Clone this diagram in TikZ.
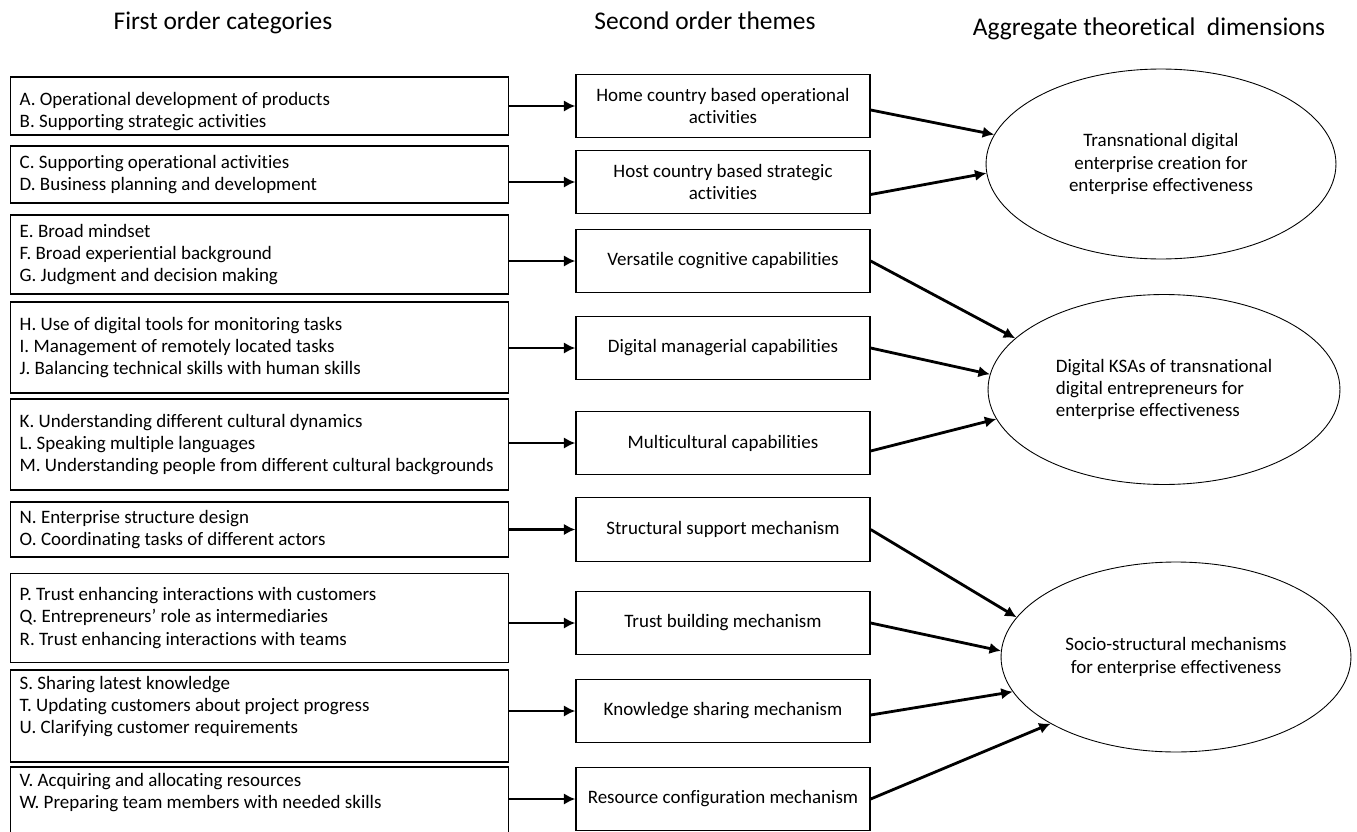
\documentclass[tikz,border=0pt]{standalone}
\usepackage{fontspec}
\setmainfont{Carlito}[Ligatures=NoCommon]
\usetikzlibrary{arrows.meta,positioning}
\usetikzlibrary{shapes.geometric}
\tikzset{
  every node/.style={execute at begin node={\spaceskip=0pt\xspaceskip=0pt}},
  catbox/.style={draw, line width=0.8pt, anchor=west, text width=9.6cm, inner xsep=0.18cm, align=flush left, font=\fontsize{10.8}{12.7}\selectfont},
  themebox/.style={draw, line width=0.8pt, minimum width=5.88cm, minimum height=1.27cm, text width=5.6cm, align=flush center, font=\fontsize{10.8}{12.7}\selectfont},
  dimnode/.style={ellipse, draw, line width=0.5pt, inner sep=0pt, minimum width=7cm, minimum height=3.8cm, font=\fontsize{10.8}{12.7}\selectfont},
  head/.style={font=\fontsize{14.5}{16}\selectfont},
  link/.style={-{Latex[length=6.5pt,width=6.5pt]}, line width=1.6pt}
}

\begin{document}
\begin{tikzpicture}[x=0.02cm, y=-0.02cm]
\useasboundingbox (0,0) rectangle (1357,832);
% column titles
\node[head] (h1) at (223,23) {First order categories};
\node[head] (h2) at (705,21) {Second order themes};
\node[head] (h3) at (1149,29) {Aggregate theoretical \ dimensions};
% first order categories
\node[catbox, inner ysep=0pt, minimum height=1.16cm] (ab) at (10,106) {\rule{0pt}{14pt}A. Operational development of products\\B. Supporting strategic activities};
\node[catbox, minimum height=1.14cm] (cd) at (10,174.5) {C. Supporting operational activities\\D. Business planning and development};
\node[catbox, minimum height=1.58cm] (efg) at (10,254.5) {E. Broad mindset\\F. Broad experiential background\\G. Judgment and decision making};
\node[catbox, minimum height=1.82cm] (hij) at (10,347.5) {H. Use of digital tools for monitoring tasks\\I. Management of remotely located tasks\\J. Balancing technical skills with human skills};
\node[catbox, minimum height=1.82cm] (klm) at (10,444.5) {K. Understanding different cultural dynamics\\L. Speaking multiple languages\\M. Understanding people from different cultural backgrounds};
\node[catbox, minimum height=1.1cm] (no) at (10,529.5) {N. Enterprise structure design\\O. Coordinating tasks of different actors};
\node[catbox, minimum height=1.78cm] (pqr) at (10,618) {P. Trust enhancing interactions with customers\\Q. Entrepreneurs’ role as intermediaries\\R. Trust enhancing interactions with teams};
\node[catbox, minimum height=1.84cm] (stu) at (10,716) {S. Sharing latest knowledge\\T. Updating customers about project progress\\U. Clarifying customer requirements\\~};
\node[catbox, minimum height=1.68cm] (vw) at (10,813) {V. Acquiring and allocating resources\\W. Preparing team members with needed skills\\~\\~};
% second order themes
\node[themebox] (home) at (723,106) {Home country based operational\\activities};
\node[themebox] (host) at (723,182) {Host country based strategic\\activities};
\node[themebox] (vers) at (723,261) {Versatile cognitive capabilities};
\node[themebox] (dman) at (723,348) {Digital managerial capabilities};
\node[themebox] (multi) at (723,443) {Multicultural capabilities};
\node[themebox] (struct) at (723,529.5) {Structural support mechanism};
\node[themebox] (trust) at (723,623) {Trust building mechanism};
\node[themebox] (know) at (723,711) {Knowledge sharing mechanism};
\node[themebox] (res) at (723,799) {Resource configuration mechanism};
% aggregate dimensions
\node[dimnode, align=center] (tde) at (1161,164) {Transnational digital\\enterprise creation for\\enterprise effectiveness};
\node[dimnode, align=flush left, minimum width=7.04cm] (ksa) at (1164,389.5) {Digital KSAs of transnational\\digital entrepreneurs for\\enterprise effectiveness};
\node[dimnode, align=center] (ssm) at (1176,657) {Socio-structural mechanisms\\for enterprise effectiveness};
% first to second order
\draw[link] (ab.east |- home.west) -- (home.west);
\draw[link] (cd.east |- host.west) -- (host.west);
\draw[link] (efg.east |- vers.west) -- (vers.west);
\draw[link] (hij.east |- dman.west) -- (dman.west);
\draw[link] (klm.east |- multi.west) -- (multi.west);
\draw[link] (no.east |- struct.west) -- (struct.west);
\draw[link] (pqr.east |- trust.west) -- (trust.west);
\draw[link] (stu.east |- know.west) -- (know.west);
\draw[link] (vw.east |- res.west) -- (res.west);
% second order to dimensions
\draw[link] ([yshift=-0.08cm]home.east) -- (tde.170);
\draw[link] ([yshift=-0.25cm]host.east) -- (tde.183);
\draw[link] (vers.east) -- (ksa.161);
\draw[link] (dman.east) -- (ksa.175);
\draw[link] ([yshift=-0.16cm]multi.east) -- (ksa.190);
\draw[link] (struct.east) -- (ssm.166);
\draw[link] (trust.east) -- (ssm.178);
\draw[link] ([yshift=-0.08cm]know.east) -- (ssm.192.5);
\draw[link] (res.east) -- (ssm.208);
\end{tikzpicture}
\end{document}
